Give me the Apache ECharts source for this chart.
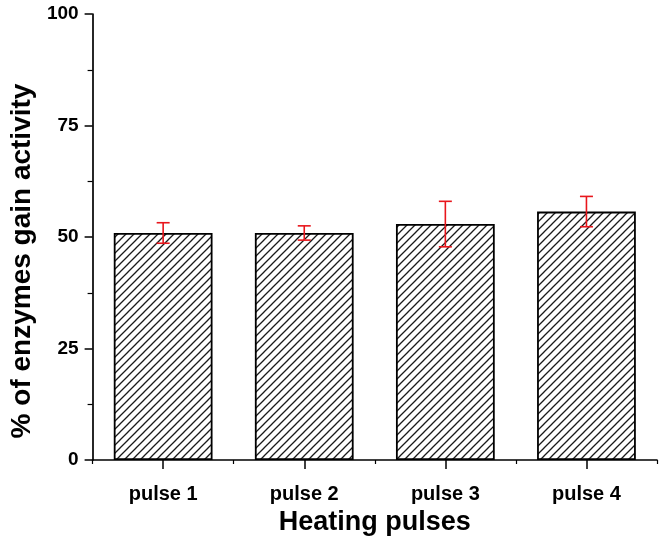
<!DOCTYPE html>
<html>
<head>
<meta charset="utf-8">
<script src="https://cdn.jsdelivr.net/npm/echarts@6/dist/echarts.min.js"></script>
<style>
  html, body {margin: 0; padding: 0; background: #fff;}
  #chart {width: 664px; height: 545px;}
</style>
</head>
<body>
<div id="chart"></div>
<script>
// values
const categories = ['pulse 1', 'pulse 2', 'pulse 3', 'pulse 4'];
const activity = [50.9, 50.9, 52.9, 55.7];
const errors = [2.3, 1.6, 5.1, 3.4];
const yTicks = [0, 25, 50, 75, 100];

// hatch fill ///
function hatch() {
  const s = 8;
  const c = document.createElement('canvas');
  c.width = s; c.height = s;
  const ctx = c.getContext('2d');
  ctx.strokeStyle = '#1a1a1a';
  ctx.lineWidth = 1.3;
  ctx.beginPath();
  ctx.moveTo(-1, s + 1); ctx.lineTo(s + 1, -1);
  ctx.moveTo(-1, 1); ctx.lineTo(1, -1);
  ctx.moveTo(s - 1, s + 1); ctx.lineTo(s + 1, s - 1);
  ctx.stroke();
  return c;
}

const font = 'Liberation Sans, Arial, sans-serif';
const errData = categories.map((c, i) => [i, activity[i] - errors[i], activity[i] + errors[i]]);

const chart = echarts.init(document.getElementById('chart'));
chart.setOption({
  animation: false,
  grid: {left: 92, right: 7, top: 14, bottom: 85},
  xAxis: [
    {
      type: 'category',
      data: categories,
      position: 'bottom',
      name: 'Heating pulses',
      nameLocation: 'middle',
      nameGap: 49,
      nameTextStyle: {fontFamily: font, fontWeight: 'bold', fontSize: 27, color: '#000'},
      axisLine: {lineStyle: {color: '#000', width: 1.7}},
      axisTick: {show: true, alignWithLabel: true, length: 9, lineStyle: {color: '#000', width: 1.5}},
      axisLabel: {margin: 24, fontFamily: font, fontWeight: 'bold', fontSize: 20, color: '#000'},
    },
    {
      type: 'category',
      data: categories,
      position: 'bottom',
      axisLine: {show: false},
      axisTick: {show: true, length: 4, lineStyle: {color: '#000', width: 1.2}},
      axisLabel: {show: false},
    }
  ],
  yAxis: {
    type: 'value',
    min: yTicks[0],
    max: yTicks[yTicks.length - 1],
    interval: 25,
    name: '% of enzymes gain activity',
    nameLocation: 'middle',
    nameGap: 55,
    nameTextStyle: {fontFamily: font, fontWeight: 'bold', fontSize: 28, color: '#000', padding: [0, 48, 0, 0]},
    axisLine: {show: true, lineStyle: {color: '#000', width: 1.7}},
    axisTick: {show: true, length: 8, lineStyle: {color: '#000', width: 1.5}},
    minorTick: {show: true, splitNumber: 2, length: 5, lineStyle: {color: '#000', width: 1.2}},
    splitLine: {show: false},
    axisLabel: {margin: 14, fontFamily: font, fontWeight: 'bold', fontSize: 19, color: '#000'},
  },
  series: [
    {
      type: 'bar',
      data: activity,
      barWidth: '70%',
      itemStyle: {
        color: {image: hatch(), repeat: 'repeat'},
        borderColor: '#000',
        borderWidth: 1.8,
      },
    },
    {
      type: 'custom',
      data: errData,
      z: 10,
      renderItem: function (params, api) {
        const lo = api.coord([api.value(0), api.value(1)]);
        const hi = api.coord([api.value(0), api.value(2)]);
        const w = 6.5;
        const st = {stroke: '#e8161c', lineWidth: 1.6};
        return {
          type: 'group',
          children: [
            {type: 'line', shape: {x1: hi[0], y1: hi[1], x2: lo[0], y2: lo[1]}, style: st},
            {type: 'line', shape: {x1: hi[0] - w, y1: hi[1], x2: hi[0] + w, y2: hi[1]}, style: st},
            {type: 'line', shape: {x1: lo[0] - w, y1: lo[1], x2: lo[0] + w, y2: lo[1]}, style: st},
          ]
        };
      }
    }
  ]
});
</script>
</body>
</html>
